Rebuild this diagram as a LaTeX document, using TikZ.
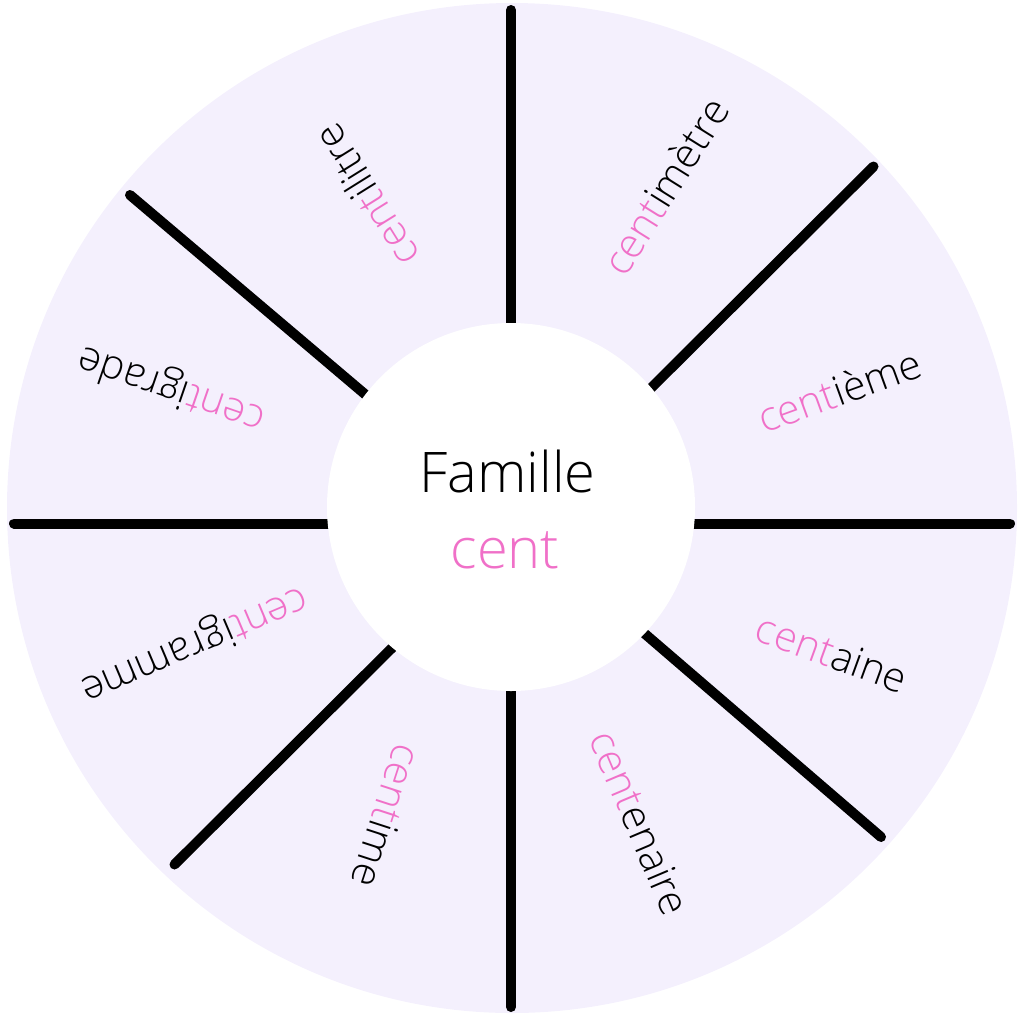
\documentclass[tikz,border=0pt]{standalone}
\usepackage{fontspec}
\setmainfont{Open Sans Light}
\definecolor{lav}{RGB}{244,240,253}
\definecolor{pinkc}{RGB}{240,112,200}
\begin{document}
\begin{tikzpicture}[x=1pt,y=-1pt,
  divider/.style={line width=10pt,line cap=round,black},
  word/.style={font=\fontsize{41}{48}\selectfont,inner sep=0pt,anchor=center},
  title/.style={font=\fontsize{56}{64}\selectfont,inner sep=0pt,anchor=base}]
\useasboundingbox (0,0) rectangle (1024,1020);
\fill[lav] (512,508) circle[radius=505];
% dividers
\coordinate (t1) at (511,10);      \coordinate (t2) at (511,340);
\coordinate (b1) at (511,1007);    \coordinate (b2) at (511,675);
\coordinate (l1) at (14,523.5);    \coordinate (l2) at (345,523.5);
\coordinate (r1) at (1010,523.5);  \coordinate (r2) at (675,523.5);
\coordinate (ul1) at (130,195);    \coordinate (ul2) at (386,412);
\coordinate (ur1) at (873.5,166.5);\coordinate (ur2) at (632,407);
\coordinate (lr1) at (881,837);    \coordinate (lr2) at (623,615);
\coordinate (ll1) at (174.5,864.5);\coordinate (ll2) at (412,628);
\foreach \a in {t,b,l,r,ul,ur,lr,ll}{\draw[divider] (\a1) -- (\a2);}
\fill[white] (511,507) circle[radius=184];
% center
\node[title] (fam) at (507.5,492) {Famille};
\node[title,text=pinkc] (cent) at (505,568) {cent};
% words
\node[word,rotate=58] (w1) at (665,186) {\textcolor{pinkc}{cent}imètre};
\node[word,rotate=20] (w2) at (839,390) {\textcolor{pinkc}{cent}ième};
\node[word,rotate=-20] (w3) at (832,653) {\textcolor{pinkc}{cent}aine};
\node[word,rotate=-67] (w4) at (640,823) {\textcolor{pinkc}{cent}enaire};
\node[word,rotate=-108] (w5) at (387,816) {\textcolor{pinkc}{cent}ime};
\node[word,rotate=-157] (w6) at (194,643) {\textcolor{pinkc}{cent}igramme};
\node[word,rotate=161] (w7) at (172,388) {\textcolor{pinkc}{cent}igrade};
\node[word,rotate=122] (w8) at (366,196) {\textcolor{pinkc}{cent}ilitre};
\end{tikzpicture}
\end{document}
